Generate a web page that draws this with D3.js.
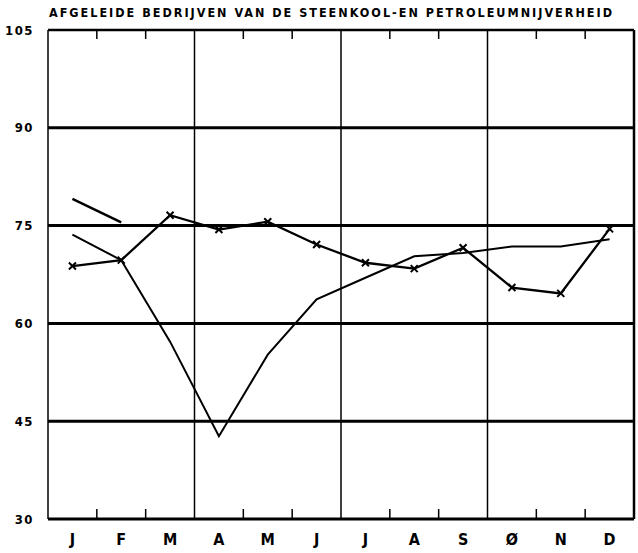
<!DOCTYPE html>
<html>
<head>
<meta charset="utf-8">
<script src="https://cdn.jsdelivr.net/npm/d3@7"></script>
<style>
body{margin:0;background:#fff;}
svg{display:block;}
text{font-family:"DejaVu Sans Condensed","DejaVu Sans",sans-serif;font-weight:bold;fill:#000;}
</style>
</head>
<body>
<div id="chart"></div>
<script>
var months = ['J','F','M','A','M','J','J','A','S','Ø','N','D'];
var yTicks = [30,45,60,75,90,105];

// series with crosses
var seriesA = [68.8,69.7,76.6,74.4,75.6,72.1,69.3,68.4,71.6,65.5,64.6,74.5];
// thin line
var seriesB = [73.6,69.7,57.2,42.7,55.2,63.7,67.0,70.3,70.8,71.8,71.8,72.9];
// short segment at the start
var seriesC = [79.1,75.5];

var W = 638, H = 553;
var plotLeft = 48, plotRight = 634, plotTop = 30, plotBottom = 519;

var svg = d3.select('#chart').append('svg')
	.attr('width', W)
	.attr('height', H);

var x = d3.scaleBand()
	.domain(d3.range(12))
	.range([plotLeft, plotRight]);

var y = d3.scaleLinear()
	.domain([30,105])
	.range([plotBottom, plotTop]);

//title
svg.append('text')
	.attr('x', 49)
	.attr('y', 17)
	.attr('font-size', 12.5)
	.attr('textLength', 563)
	.attr('lengthAdjust', 'spacing')
	.text('AFGELEIDE BEDRIJVEN VAN DE STEENKOOL-EN PETROLEUMNIJVERHEID');

//horizontal grid lines
svg.append('g')
	.selectAll('line')
	.data([45,60,75,90])
	.enter()
	.append('line')
	.attr('x1', plotLeft)
	.attr('x2', plotRight)
	.attr('y1', function(d){ return y(d); })
	.attr('y2', function(d){ return y(d); })
	.attr('stroke', '#000')
	.attr('stroke-width', 3);

//quarter lines
svg.append('g')
	.selectAll('line')
	.data([3,6,9])
	.enter()
	.append('line')
	.attr('x1', function(d){ return x(d); })
	.attr('x2', function(d){ return x(d); })
	.attr('y1', plotTop)
	.attr('y2', plotBottom)
	.attr('stroke', '#000')
	.attr('stroke-width', 1.5);

//month ticks top and bottom
var tickIdx = [1,2,4,5,7,8,10,11];
svg.append('g')
	.selectAll('line')
	.data(tickIdx)
	.enter()
	.append('line')
	.attr('x1', function(d){ return x(d); })
	.attr('x2', function(d){ return x(d); })
	.attr('y1', plotTop)
	.attr('y2', plotTop + 9)
	.attr('stroke', '#000')
	.attr('stroke-width', 1.5);
svg.append('g')
	.selectAll('line')
	.data(tickIdx)
	.enter()
	.append('line')
	.attr('x1', function(d){ return x(d); })
	.attr('x2', function(d){ return x(d); })
	.attr('y1', plotBottom - 10)
	.attr('y2', plotBottom)
	.attr('stroke', '#000')
	.attr('stroke-width', 1.5);

//frame
svg.append('line').attr('x1', plotLeft).attr('x2', plotLeft).attr('y1', plotTop).attr('y2', plotBottom)
	.attr('stroke', '#000').attr('stroke-width', 1.5);
svg.append('line').attr('x1', plotRight).attr('x2', plotRight).attr('y1', plotTop).attr('y2', plotBottom)
	.attr('stroke', '#000').attr('stroke-width', 2.5);
svg.append('line').attr('x1', plotLeft).attr('x2', plotRight).attr('y1', plotTop).attr('y2', plotTop)
	.attr('stroke', '#000').attr('stroke-width', 2.5);
svg.append('line').attr('x1', plotLeft).attr('x2', plotRight).attr('y1', plotBottom).attr('y2', plotBottom)
	.attr('stroke', '#000').attr('stroke-width', 3);

//y labels
svg.append('g')
	.selectAll('text')
	.data(yTicks)
	.enter()
	.append('text')
	.attr('x', 34)
	.attr('y', function(d){ return y(d); })
	.attr('text-anchor', 'end')
	.attr('dominant-baseline', 'central')
	.attr('font-size', 13)
	.attr('letter-spacing', 1.5)
	.text(function(d){ return d; });

//month labels
svg.append('g')
	.selectAll('text')
	.data(months)
	.enter()
	.append('text')
	.attr('x', function(d,i){ return x(i) + x.bandwidth()/2; })
	.attr('y', 539)
	.attr('text-anchor', 'middle')
	.attr('dominant-baseline', 'central')
	.attr('font-size', 16)
	.text(function(d){ return d; });

var line = d3.line()
	.x(function(d,i){ return x(i) + x.bandwidth()/2; })
	.y(function(d){ return y(d); });

svg.append('path')
	.datum(seriesB)
	.attr('d', line)
	.attr('fill', 'none')
	.attr('stroke', '#000')
	.attr('stroke-width', 2);

svg.append('path')
	.datum(seriesC)
	.attr('d', line)
	.attr('fill', 'none')
	.attr('stroke', '#000')
	.attr('stroke-width', 2.5);

svg.append('path')
	.datum(seriesA)
	.attr('d', line)
	.attr('fill', 'none')
	.attr('stroke', '#000')
	.attr('stroke-width', 2.3);

//cross markers
svg.append('g')
	.selectAll('path')
	.data(seriesA)
	.enter()
	.append('path')
	.attr('d', function(d,i){
		var cx = x(i) + x.bandwidth()/2, cy = y(d), r = 3.5;
		return 'M'+(cx-r)+','+(cy-r)+'L'+(cx+r)+','+(cy+r)+'M'+(cx-r)+','+(cy+r)+'L'+(cx+r)+','+(cy-r);
	})
	.attr('stroke', '#000')
	.attr('stroke-width', 2);
</script>
</body>
</html>
